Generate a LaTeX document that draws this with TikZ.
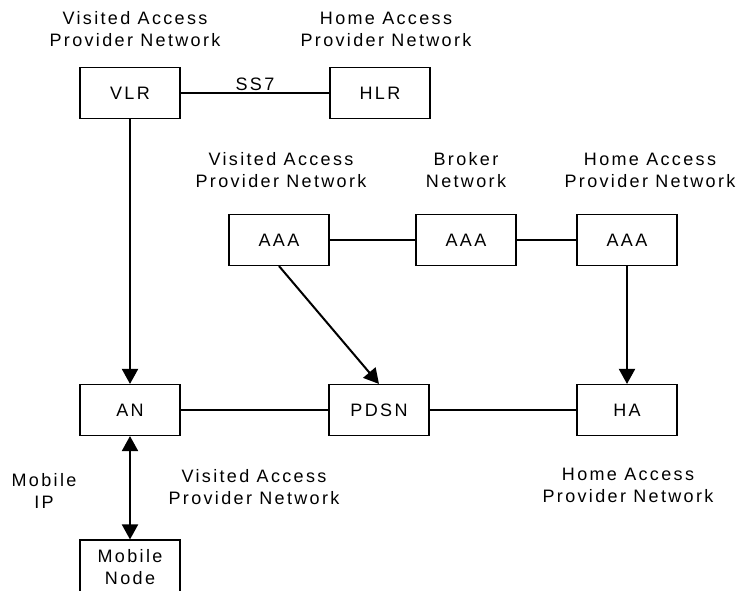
\documentclass[tikz,border=0pt]{standalone}
\usepackage{fontspec}
\setmainfont{Liberation Sans}[LetterSpace=13]
\usetikzlibrary{arrows.meta}
\begin{document}
\begin{tikzpicture}[x=1pt,y=-1pt]
		\tikzset{box/.style = {shape=rectangle,draw,line width=1.1pt,minimum width=100pt,minimum height=51pt,font=\fontsize{18}{22}\selectfont,align=center}}
		\tikzset{lbl/.style = {align=center,font=\fontsize{18}{22}\selectfont}}
		\tikzset{link/.style = {-{Triangle[length=15pt,width=16pt]},line width=2pt}}
		\useasboundingbox (0,0) rectangle (744,591);
		% region labels
		\node[lbl] (vtop) at (135,29) {Visited Access\\Provider Network};
		\node[lbl] (htop) at (386,29) {Home Access\\Provider Network};
		\node[lbl] (vmid) at (281,170) {Visited Access\\Provider Network};
		\node[lbl] (bmid) at (466,170) {Broker\\Network};
		\node[lbl] (hmid) at (650,170) {Home Access\\Provider Network};
		\node[lbl] (vlow) at (254,487) {Visited Access\\Provider Network};
		\node[lbl] (hlow) at (628,485) {Home Access\\Provider Network};
		\node[lbl] (mip) at (44,491) {Mobile\\IP};
		% boxes
		\node[box] (vlr) at (130,93) {VLR};
		\node[box] (hlr) at (380,93) {HLR};
		\node[box] (aaav) at (279,240) {AAA};
		\node[box] (aaab) at (466,240) {AAA};
		\node[box] (aaah) at (627,240) {AAA};
		\node[box] (an) at (130,410) {AN};
		\node[box] (pdsn) at (379,410) {PDSN};
		\node[box] (ha) at (627,410) {HA};
		\node[box,minimum height=54pt] (mn) at (130,567) {Mobile\\Node};
		% connections
		\path[draw,line width=2pt] (vlr) -- node[above,inner sep=1pt,font=\fontsize{18}{22}\selectfont] {SS7} (hlr);
		\path[draw,line width=2pt] (aaav) -- (aaab);
		\path[draw,line width=2pt] (aaab) -- (aaah);
		\path[draw,line width=1.5pt] (an) -- (pdsn);
		\path[draw,line width=1.5pt] (pdsn) -- (ha);
		\draw[link] (vlr) -- (an);
		\draw[link] (aaav.south) -- (pdsn.north);
		\draw[link] (aaah) -- (ha);
		\draw[link,{Triangle[length=15pt,width=16pt]}-{Triangle[length=15pt,width=16pt]}] (an) -- (mn);
	\end{tikzpicture}
\end{document}
